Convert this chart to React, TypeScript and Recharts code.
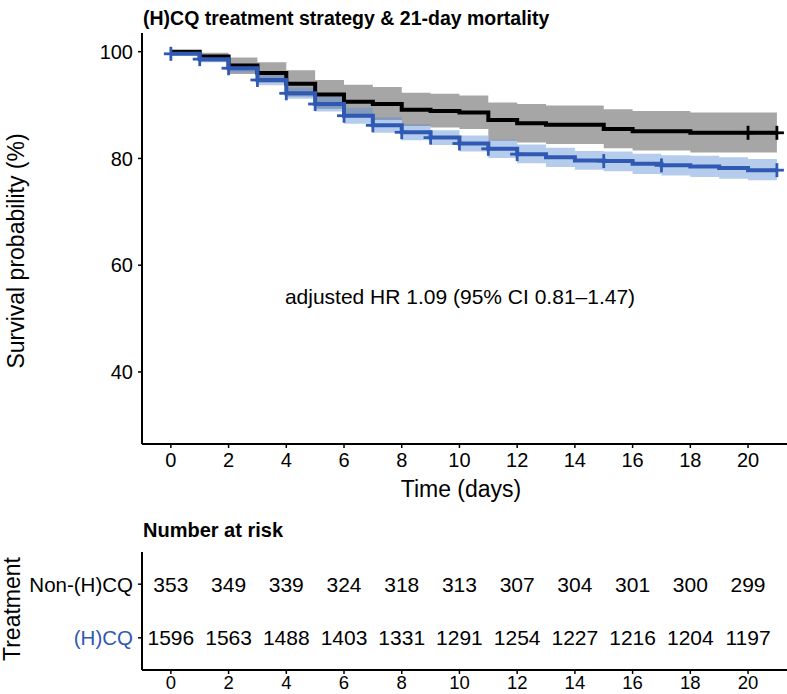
import { ComposedChart, Line, Area, Scatter, XAxis, YAxis } from 'recharts'

const FONT = '"Liberation Sans", Arial, Helvetica, sans-serif'
const BLUE = '#3059b3'
const BLUE_BAND = '#5b8fd4'

// KM estimates per day (value holds from day t until the next step)
const days = [0, 1, 2, 3, 4, 5, 6, 7, 8, 9, 10, 11, 12, 13, 14, 15, 16, 17, 18, 19, 20, 21]
const nonSurv = [100, 99.1, 97.4, 96.0, 94.0, 92.0, 90.6, 90.2, 89.1, 88.9, 88.6, 87.2, 86.6, 86.3, 86.3, 85.5, 85.1, 85.1, 84.8, 84.8, 84.8, 84.8]
const nonHigh = [100, 99.8, 98.9, 98.0, 96.5, 94.7, 93.8, 93.4, 92.3, 92.1, 91.8, 90.5, 90.2, 89.9, 89.9, 89.2, 88.9, 88.9, 88.6, 88.6, 88.6, 88.6]
const nonLow = [100, 98.1, 95.8, 94.2, 91.6, 89.3, 87.7, 87.2, 86.1, 85.8, 85.5, 83.3, 83.0, 82.7, 82.7, 81.9, 81.5, 81.5, 81.1, 81.1, 81.1, 81.1]
const hcqSurv = [99.6, 98.6, 96.9, 94.7, 92.2, 90.2, 88.0, 86.2, 84.9, 83.9, 82.8, 81.8, 80.8, 80.2, 79.6, 79.5, 79.0, 78.7, 78.5, 78.2, 77.8, 77.8]
const hcqHigh = [99.9, 99.1, 97.7, 95.7, 93.3, 91.5, 89.5, 87.7, 86.4, 85.3, 84.3, 83.5, 82.6, 82.0, 81.4, 81.3, 80.9, 80.6, 80.5, 80.2, 79.9, 79.9]
const hcqLow = [99.3, 98.0, 96.1, 93.7, 91.2, 88.8, 86.5, 84.8, 83.4, 82.5, 81.3, 80.1, 79.1, 78.4, 77.9, 77.6, 77.1, 76.8, 76.5, 76.2, 75.9, 75.9]

const nonCensor = [20, 21]
const hcqCensor = [0, 1, 2, 3, 4, 5, 6, 7, 8, 9, 10, 11, 12, 15, 17, 21]

const riskTimes = [0, 2, 4, 6, 8, 10, 12, 14, 16, 18, 20]
const riskNon = [353, 349, 339, 324, 318, 313, 307, 304, 301, 300, 299]
const riskHcq = [1596, 1563, 1488, 1403, 1331, 1291, 1254, 1227, 1216, 1204, 1197]

const xTicks = [0, 2, 4, 6, 8, 10, 12, 14, 16, 18, 20]
const yTicks = [40, 60, 80, 100]

const curveData = days.map((t, i) => ({
  t,
  non: nonSurv[i],
  nonCi: [nonLow[i], nonHigh[i]],
  hcq: hcqSurv[i],
  hcqCi: [hcqLow[i], hcqHigh[i]],
}))
const nonMarks = nonCensor.map((t) => ({ t, s: nonSurv[days.indexOf(t)] }))
const hcqMarks = hcqCensor.map((t) => ({ t, s: hcqSurv[days.indexOf(t)] }))
const riskData = [
  ...riskTimes.map((t, i) => ({ t, row: 2, n: riskNon[i] })),
  ...riskTimes.map((t, i) => ({ t, row: 1, n: riskHcq[i] })),
]

const X_DOMAIN = [-1.0, 21.35]

const plus = (color: string) => (props: any) => {
  const { cx, cy } = props
  return (
    <g>
      <line x1={cx - 7} x2={cx + 7} y1={cy} y2={cy} stroke={color} strokeWidth={2.8} />
      <line x1={cx} x2={cx} y1={cy - 7} y2={cy + 7} stroke={color} strokeWidth={2.8} />
    </g>
  )
}

const riskText = (props: any) => (
  <text x={props.cx} y={props.cy} textAnchor="middle" dominantBaseline="central"
    fontSize={21} fontFamily={FONT} fill="#000">
    {props.payload.n}
  </text>
)

const rowTick = (props: any) => {
  const { x, y, payload } = props
  const isHcq = payload.value === 1
  return (
    <text x={x} y={y} textAnchor="end" dominantBaseline="central" fontSize={20.5}
      fontFamily={FONT} fill={isHcq ? BLUE : '#000'}>
      {isHcq ? '(H)CQ' : 'Non-(H)CQ'}
    </text>
  )
}

const axisStyle = { stroke: '#000', strokeWidth: 2 }
const tickLineStyle = { stroke: '#000', strokeWidth: 1.5 }
const tickFont = { fill: '#000', fontSize: 20, fontFamily: FONT }
const riskTickFont = { fill: '#000', fontSize: 18.5, fontFamily: FONT }

export default function App() {
  return (
    <div style={{ position: 'absolute', left: 0, top: 0, width: 787, height: 694, background: '#fff', fontFamily: FONT }}>
      <ComposedChart width={787} height={500} data={curveData} margin={{ top: 33, right: 0, bottom: 0, left: 0 }}>
        <XAxis dataKey="t" type="number" domain={X_DOMAIN} ticks={xTicks} allowDataOverflow
          height={56} tickSize={4} tickMargin={5} axisLine={axisStyle} tickLine={tickLineStyle}
          tick={tickFont} />
        <YAxis type="number" domain={[26.5, 103.5]} ticks={yTicks} allowDataOverflow
          width={142} tickSize={4} tickMargin={5} axisLine={axisStyle} tickLine={tickLineStyle}
          tick={tickFont} />
        <Area dataKey="nonCi" type="stepAfter" stroke="none" fill="#000" fillOpacity={0.35} isAnimationActive={false} />
        <Area dataKey="hcqCi" type="stepAfter" stroke="none" fill={BLUE_BAND} fillOpacity={0.45} isAnimationActive={false} />
        <Line dataKey="non" type="stepAfter" stroke="#000" strokeWidth={4} dot={false} isAnimationActive={false} />
        <Line dataKey="hcq" type="stepAfter" stroke={BLUE} strokeWidth={4} dot={false} isAnimationActive={false} />
        <Scatter data={nonMarks} dataKey="s" shape={plus('#000')} isAnimationActive={false} />
        <Scatter data={hcqMarks} dataKey="s" shape={plus(BLUE)} isAnimationActive={false} />
      </ComposedChart>
      <ComposedChart width={787} height={194} margin={{ top: 52, right: 0, bottom: 0, left: 0 }}>
        <XAxis dataKey="t" type="number" domain={X_DOMAIN} ticks={xTicks} allowDataOverflow
          height={24} tickSize={4} tickMargin={2} axisLine={axisStyle} tickLine={tickLineStyle}
          tick={riskTickFont} />
        <YAxis dataKey="row" type="number" domain={[0.4, 2.6]} ticks={[1, 2]} allowDataOverflow
          width={142} tickSize={4} tickMargin={5} axisLine={axisStyle} tickLine={tickLineStyle}
          tick={rowTick} />
        <Scatter data={riskData} dataKey="row" shape={riskText} isAnimationActive={false} />
      </ComposedChart>
      <svg width={787} height={694} style={{ position: 'absolute', left: 0, top: 0, pointerEvents: 'none' }}>
        <text x={143} y={25} fontSize={19.5} fontWeight="bold" fontFamily={FONT} fill="#000">
          (H)CQ treatment strategy &amp; 21-day mortality
        </text>
        <text transform="translate(16,251) rotate(-90)" textAnchor="middle" dominantBaseline="central"
          fontSize={23} fontFamily={FONT} fill="#000">
          Survival probability (%)
        </text>
        <text x={461} y={489} textAnchor="middle" dominantBaseline="central" fontSize={23} fontFamily={FONT} fill="#000">
          Time (days)
        </text>
        <text x={460} y={296} textAnchor="middle" dominantBaseline="central" fontSize={21} fontFamily={FONT} fill="#000">
          adjusted HR 1.09 (95% CI 0.81–1.47)
        </text>
        <text x={143} y={536.5} fontSize={20} fontWeight="bold" fontFamily={FONT} fill="#000">
          Number at risk
        </text>
        <text transform="translate(12,609) rotate(-90)" textAnchor="middle" dominantBaseline="central"
          fontSize={23} fontFamily={FONT} fill="#000">
          Treatment
        </text>
      </svg>
    </div>
  )
}
